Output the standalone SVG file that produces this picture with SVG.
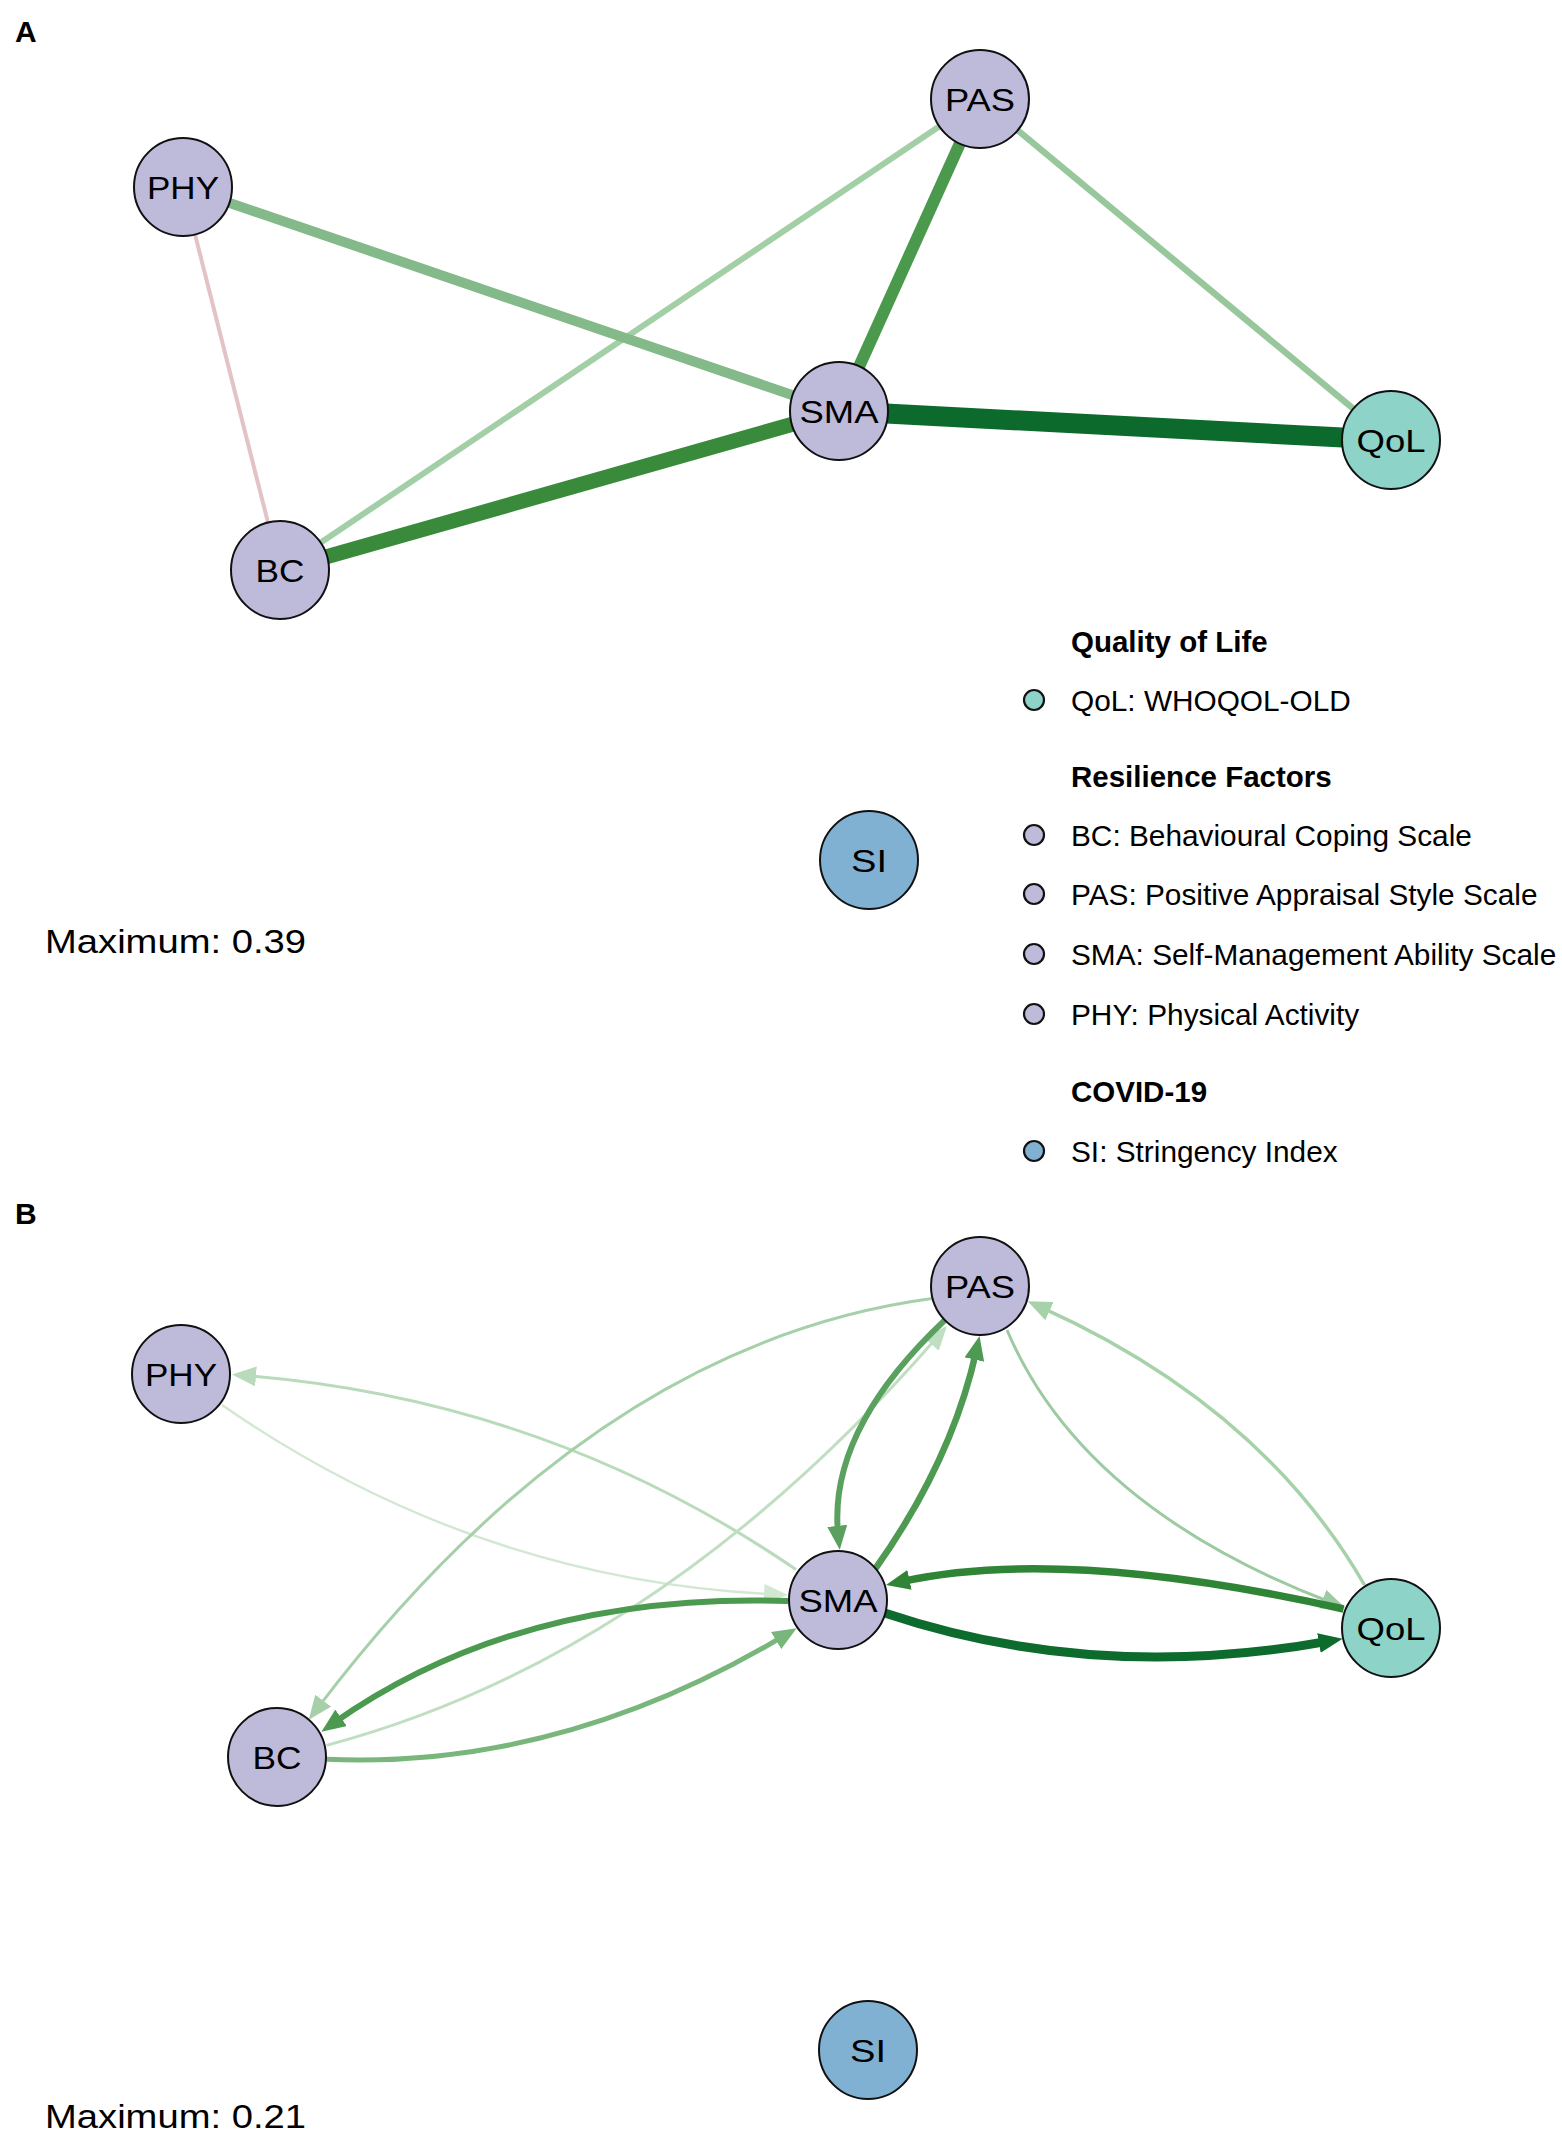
<svg xmlns="http://www.w3.org/2000/svg" width="1562" height="2133" viewBox="0 0 1562 2133">
<style>
text{font-family:"Liberation Sans",Arial,sans-serif;fill:#000}
.panel{font-size:30px;font-weight:bold}
.nlab{font-size:32px;text-anchor:middle}
.max{font-size:33px}
.lg{font-size:29.8px}
.lgh{font-size:29.5px;font-weight:bold}
.node{stroke:#111;stroke-width:2}
.res{fill:#bebada}
.qol{fill:#8dd3c7}
.si{fill:#80b1d3}
.ldot{stroke:#111;stroke-width:2.2}
.e{fill:none;stroke-linecap:butt}
</style>
<defs>
<marker id="m1" markerUnits="userSpaceOnUse" viewBox="0 0 24 20" markerWidth="24" markerHeight="20" refX="9" refY="10" orient="auto"><path d="M0,0L24,10L0,20z" fill="#0c6b2d"/></marker>
<marker id="m2" markerUnits="userSpaceOnUse" viewBox="0 0 24 20" markerWidth="24" markerHeight="20" refX="9" refY="10" orient="auto"><path d="M0,0L24,10L0,20z" fill="#2f8535"/></marker>
<marker id="m3" markerUnits="userSpaceOnUse" viewBox="0 0 24 20" markerWidth="24" markerHeight="20" refX="9" refY="10" orient="auto"><path d="M0,0L24,10L0,20z" fill="#5aa05e"/></marker>
<marker id="m4" markerUnits="userSpaceOnUse" viewBox="0 0 24 20" markerWidth="24" markerHeight="20" refX="9" refY="10" orient="auto"><path d="M0,0L24,10L0,20z" fill="#4e9a52"/></marker>
<marker id="m5" markerUnits="userSpaceOnUse" viewBox="0 0 24 20" markerWidth="24" markerHeight="20" refX="9" refY="10" orient="auto"><path d="M0,0L24,10L0,20z" fill="#4b9a4f"/></marker>
<marker id="m6" markerUnits="userSpaceOnUse" viewBox="0 0 24 20" markerWidth="24" markerHeight="20" refX="9" refY="10" orient="auto"><path d="M0,0L24,10L0,20z" fill="#79b67c"/></marker>
<marker id="m7" markerUnits="userSpaceOnUse" viewBox="0 0 24 20" markerWidth="24" markerHeight="20" refX="9" refY="10" orient="auto"><path d="M0,0L24,10L0,20z" fill="#a6d0a9"/></marker>
<marker id="m8" markerUnits="userSpaceOnUse" viewBox="0 0 24 20" markerWidth="24" markerHeight="20" refX="9" refY="10" orient="auto"><path d="M0,0L24,10L0,20z" fill="#c0dec1"/></marker>
<marker id="m9" markerUnits="userSpaceOnUse" viewBox="0 0 24 20" markerWidth="24" markerHeight="20" refX="9" refY="10" orient="auto"><path d="M0,0L24,10L0,20z" fill="#9dcaa0"/></marker>
<marker id="m10" markerUnits="userSpaceOnUse" viewBox="0 0 24 20" markerWidth="24" markerHeight="20" refX="9" refY="10" orient="auto"><path d="M0,0L24,10L0,20z" fill="#a7d2a9"/></marker>
<marker id="m11" markerUnits="userSpaceOnUse" viewBox="0 0 24 20" markerWidth="24" markerHeight="20" refX="9" refY="10" orient="auto"><path d="M0,0L24,10L0,20z" fill="#b9dbbb"/></marker>
<marker id="m12" markerUnits="userSpaceOnUse" viewBox="0 0 24 20" markerWidth="24" markerHeight="20" refX="9" refY="10" orient="auto"><path d="M0,0L24,10L0,20z" fill="#d2e8d3"/></marker>
</defs>
<rect width="1562" height="2133" fill="#fff"/>

<text class="panel" x="15" y="42">A</text>
<text class="panel" x="15" y="1224">B</text>

<g id="edges-A">
<line x1="183" y1="187" x2="280" y2="570" stroke="#e3c3c5" stroke-width="4"/>
<line x1="280" y1="570" x2="980" y2="99" stroke="#a2cfa6" stroke-width="6"/>
<line x1="183" y1="187" x2="839" y2="411" stroke="#84b98a" stroke-width="10"/>
<line x1="980" y1="99" x2="1391" y2="440" stroke="#98c79c" stroke-width="6.5"/>
<line x1="980" y1="99" x2="839" y2="411" stroke="#4a994c" stroke-width="12"/>
<line x1="280" y1="570" x2="839" y2="411" stroke="#398a3a" stroke-width="15"/>
<line x1="839" y1="411" x2="1391" y2="440" stroke="#0b6a2c" stroke-width="20"/>
</g>

<g id="nodes-A">
<g id="A-PHY"><circle class="node res" cx="183" cy="187" r="49"/><text class="nlab" x="183" y="198.5" textLength="72" lengthAdjust="spacingAndGlyphs">PHY</text></g>
<g id="A-BC"><circle class="node res" cx="280" cy="570" r="49"/><text class="nlab" x="280" y="581.5" textLength="49" lengthAdjust="spacingAndGlyphs">BC</text></g>
<g id="A-PAS"><circle class="node res" cx="980" cy="99" r="49"/><text class="nlab" x="980" y="110.5" textLength="70" lengthAdjust="spacingAndGlyphs">PAS</text></g>
<g id="A-SMA"><circle class="node res" cx="839" cy="411" r="49"/><text class="nlab" x="839" y="422.5" textLength="79" lengthAdjust="spacingAndGlyphs">SMA</text></g>
<g id="A-QoL"><circle class="node qol" cx="1391" cy="440" r="49"/><text class="nlab" x="1391" y="451.5" textLength="69" lengthAdjust="spacingAndGlyphs">QoL</text></g>
<g id="A-SI"><circle class="node si" cx="869" cy="860" r="49"/><text class="nlab" x="869" y="871.5" textLength="36" lengthAdjust="spacingAndGlyphs">SI</text></g>
</g>

<text class="max" x="45" y="953" textLength="261" lengthAdjust="spacingAndGlyphs">Maximum: 0.39</text>

<g id="legend">
<text class="lgh" x="1071" y="652">Quality of Life</text>
<circle class="ldot qol" cx="1034" cy="700" r="10"/>
<text class="lg" x="1071" y="711">QoL: WHOQOL-OLD</text>
<text class="lgh" x="1071" y="787">Resilience Factors</text>
<circle class="ldot res" cx="1034" cy="835" r="10"/>
<text class="lg" x="1071" y="846">BC: Behavioural Coping Scale</text>
<circle class="ldot res" cx="1034" cy="894" r="10"/>
<text class="lg" x="1071" y="905">PAS: Positive Appraisal Style Scale</text>
<circle class="ldot res" cx="1034" cy="954" r="10"/>
<text class="lg" x="1071" y="965">SMA: Self-Management Ability Scale</text>
<circle class="ldot res" cx="1034" cy="1014" r="10"/>
<text class="lg" x="1071" y="1025">PHY: Physical Activity</text>
<text class="lgh" x="1071" y="1102">COVID-19</text>
<circle class="ldot si" cx="1034" cy="1151" r="10"/>
<text class="lg" x="1071" y="1162">SI: Stringency Index</text>
</g>

<g id="edges-B">
<path class="e" d="M222,1405 Q475,1580 773,1594.3" stroke="#d2e8d3" stroke-width="2.5" marker-end="url(#m12)"/>
<path class="e" d="M796,1569.5 Q548,1400 247,1375.7" stroke="#b9dbbb" stroke-width="3" marker-end="url(#m11)"/>
<path class="e" d="M326.5,1745.4 Q658.7,1657 937.1,1337.3" stroke="#c0dec1" stroke-width="3" marker-end="url(#m8)"/>
<path class="e" d="M932,1298.6 Q594,1344 317.8,1707.8" stroke="#a6d0a9" stroke-width="3" marker-end="url(#m7)"/>
<path class="e" d="M1007,1330 Q1081.9,1507 1331.2,1602.5" stroke="#9dcaa0" stroke-width="3" marker-end="url(#m9)"/>
<path class="e" d="M1364.5,1585 Q1261.8,1406.9 1041.3,1307.4" stroke="#a7d2a9" stroke-width="3.5" marker-end="url(#m10)"/>
<path class="e" d="M326.5,1759.3 Q560.4,1769.5 783.8,1635.9" stroke="#79b67c" stroke-width="5" marker-end="url(#m6)"/>
<path class="e" d="M788,1601 Q520,1592 333.7,1723" stroke="#4b9a4f" stroke-width="6" marker-end="url(#m5)"/>
<path class="e" d="M944.6,1320.4 Q827.4,1431 838.2,1534.8" stroke="#5aa05e" stroke-width="6" marker-end="url(#m3)"/>
<path class="e" d="M874.8,1569.5 Q952,1460.9 976.3,1350.7" stroke="#4e9a52" stroke-width="6.5" marker-end="url(#m4)"/>
<path class="e" d="M1343.6,1609 Q1063,1546 900.7,1581.8" stroke="#2f8535" stroke-width="7.5" marker-end="url(#m2)"/>
<path class="e" d="M884.7,1613 Q1094.4,1683.2 1327.8,1641.4" stroke="#0c6b2d" stroke-width="9" marker-end="url(#m1)"/>
</g>

<g id="nodes-B">
<g id="B-PHY"><circle class="node res" cx="181" cy="1374" r="49"/><text class="nlab" x="181" y="1385.5" textLength="72" lengthAdjust="spacingAndGlyphs">PHY</text></g>
<g id="B-BC"><circle class="node res" cx="277" cy="1757" r="49"/><text class="nlab" x="277" y="1768.5" textLength="49" lengthAdjust="spacingAndGlyphs">BC</text></g>
<g id="B-PAS"><circle class="node res" cx="980" cy="1286" r="49"/><text class="nlab" x="980" y="1297.5" textLength="70" lengthAdjust="spacingAndGlyphs">PAS</text></g>
<g id="B-SMA"><circle class="node res" cx="838" cy="1600" r="49"/><text class="nlab" x="838" y="1611.5" textLength="79" lengthAdjust="spacingAndGlyphs">SMA</text></g>
<g id="B-QoL"><circle class="node qol" cx="1391" cy="1628" r="49"/><text class="nlab" x="1391" y="1639.5" textLength="69" lengthAdjust="spacingAndGlyphs">QoL</text></g>
<g id="B-SI"><circle class="node si" cx="868" cy="2050" r="49"/><text class="nlab" x="868" y="2061.5" textLength="36" lengthAdjust="spacingAndGlyphs">SI</text></g>
</g>

<text class="max" x="45" y="2128" textLength="261" lengthAdjust="spacingAndGlyphs">Maximum: 0.21</text>
</svg>
